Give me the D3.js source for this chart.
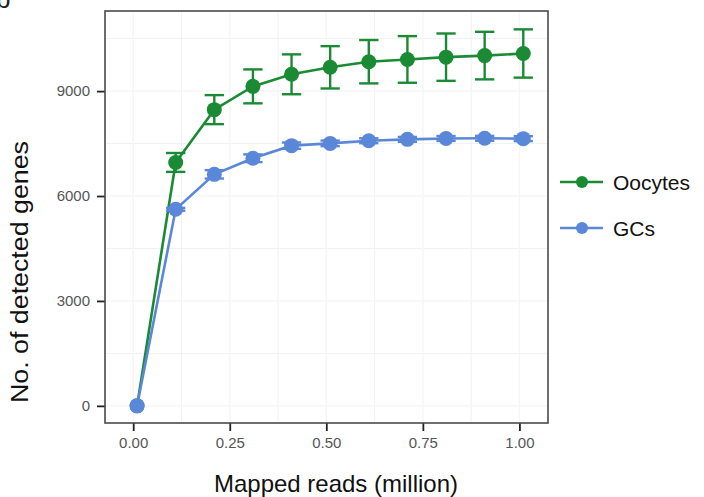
<!DOCTYPE html>
<html>
<head>
<meta charset="utf-8">
<script src="https://cdn.jsdelivr.net/npm/d3@7"></script>
<style>
  html, body { margin: 0; padding: 0; background: #fff; }
  svg { display: block; font-family: Arial, "Liberation Sans", Helvetica, sans-serif; }
</style>
</head>
<body>
<svg id="chart" width="704" height="497"></svg>
<script>
// ---- data ----
const mappedReads = [0.01, 0.11, 0.21, 0.31, 0.41, 0.51, 0.61, 0.71, 0.81, 0.91, 1.01];
const oocytesMean = [0, 6960, 8470, 9135, 9480, 9680, 9840, 9905, 9970, 10015, 10075];
const oocytesErr  = [0, 270, 415, 485, 570, 605, 620, 667, 677, 680, 690];
const gcsMean     = [0, 5620, 6620, 7080, 7440, 7505, 7580, 7620, 7645, 7650, 7640];
const gcsErr      = [0, 40, 120, 110, 90, 80, 70, 70, 70, 70, 70];
const seriesNames = ["Oocytes", "GCs"];
const seriesColors = ["#1b8a34", "#5b87d8"];
const xTicks = [0, 0.25, 0.5, 0.75, 1.0];
const xTickLabels = ["0.00", "0.25", "0.50", "0.75", "1.00"];
const yTicks = [0, 3000, 6000, 9000];
const yTickLabels = ["0", "3000", "6000", "9000"];
const xTitle = "Mapped reads (million)";
const yTitle = "No. of detected genes";

const series = [
  { name: seriesNames[0], color: seriesColors[0], mean: oocytesMean, err: oocytesErr },
  { name: seriesNames[1], color: seriesColors[1], mean: gcsMean, err: gcsErr }
].map(s => ({ ...s, pts: mappedReads.map((x, i) => ({ x, y: s.mean[i], e: s.err[i] })) }));

// ---- layout ----
const svg = d3.select("#chart");
const L = 105, T = 11, W = 443, H = 412;

const x = d3.scaleLinear().domain([-0.073, 1.074]).range([L, L + W]);
const y = d3.scaleLinear().domain([-490, 11290]).range([T + H, T]);

// grid (very faint)
const g = svg.append("g");
const minorX = [0.125, 0.375, 0.625, 0.875];
const minorY = [1500, 4500, 7500, 10500];
g.selectAll(".gxm").data(minorX).join("line")
  .attr("x1", d => x(d)).attr("x2", d => x(d)).attr("y1", T).attr("y2", T + H)
  .attr("stroke", "#f1f1f1").attr("stroke-width", 1);
g.selectAll(".gym").data(minorY).join("line")
  .attr("y1", d => y(d)).attr("y2", d => y(d)).attr("x1", L).attr("x2", L + W)
  .attr("stroke", "#f1f1f1").attr("stroke-width", 1);
g.selectAll(".gx").data(xTicks).join("line")
  .attr("x1", d => x(d)).attr("x2", d => x(d)).attr("y1", T).attr("y2", T + H)
  .attr("stroke", "#f6f6f6").attr("stroke-width", 1.5);
g.selectAll(".gy").data(yTicks).join("line")
  .attr("y1", d => y(d)).attr("y2", d => y(d)).attr("x1", L).attr("x2", L + W)
  .attr("stroke", "#f6f6f6").attr("stroke-width", 1.5);

// axes
const xAxis = d3.axisBottom(x).tickValues(xTicks).tickFormat((d, i) => xTickLabels[i])
  .tickSize(8).tickSizeOuter(0).tickPadding(6);
const yAxis = d3.axisLeft(y).tickValues(yTicks).tickFormat((d, i) => yTickLabels[i])
  .tickSize(8).tickSizeOuter(0).tickPadding(7);

const gx = svg.append("g").attr("transform", `translate(0,${T + H})`).call(xAxis);
const gy = svg.append("g").attr("transform", `translate(${L},0)`).call(yAxis);
[gx, gy].forEach(a => {
  a.select(".domain").remove();
  a.selectAll(".tick line").attr("stroke", "#222").attr("stroke-width", 1.8);
  a.selectAll(".tick text").attr("fill", "#555").style("font-size", "15px")
    .style("font-family", "Arial, 'Liberation Sans', Helvetica, sans-serif");
});

// data layers: lines, error bars, points
const line = d3.line().x(d => x(d.x)).y(d => y(d.y));
const plot = svg.append("g");
series.forEach(s => {
  plot.append("path").datum(s.pts).attr("d", line)
    .attr("fill", "none").attr("stroke", s.color).attr("stroke-width", 2.6);
});
const capHalf = 0.025;
series.forEach(s => {
  const eb = plot.append("g").attr("stroke", s.color).attr("stroke-width", 2.4).attr("fill", "none");
  const pts = s.pts.filter(d => d.e > 0);
  eb.selectAll(".v").data(pts).join("line")
    .attr("x1", d => x(d.x)).attr("x2", d => x(d.x))
    .attr("y1", d => y(d.y - d.e)).attr("y2", d => y(d.y + d.e));
  eb.selectAll(".t").data(pts).join("line")
    .attr("x1", d => x(d.x - capHalf)).attr("x2", d => x(d.x + capHalf))
    .attr("y1", d => y(d.y + d.e)).attr("y2", d => y(d.y + d.e));
  eb.selectAll(".b").data(pts).join("line")
    .attr("x1", d => x(d.x - capHalf)).attr("x2", d => x(d.x + capHalf))
    .attr("y1", d => y(d.y - d.e)).attr("y2", d => y(d.y - d.e));
});
series.forEach(s => {
  plot.selectAll(null).data(s.pts).join("circle")
    .attr("cx", d => x(d.x)).attr("cy", d => y(d.y)).attr("r", 7.5)
    .attr("fill", s.color);
});

// panel border
svg.append("rect").attr("x", L).attr("y", T).attr("width", W).attr("height", H)
  .attr("fill", "none").attr("stroke", "#4a4a4a").attr("stroke-width", 1.6);

// titles
svg.append("text").attr("x", 336).attr("y", 492).attr("text-anchor", "middle")
  .style("font-size", "24px").attr("fill", "#111").text(xTitle);
svg.append("text").attr("transform", `translate(28,${272}) rotate(-90)`).attr("text-anchor", "middle")
  .attr("textLength", 262).attr("lengthAdjust", "spacingAndGlyphs")
  .style("font-size", "23px").attr("fill", "#111").text(yTitle);

// legend
const legY = [182, 228];
series.forEach((s, i) => {
  const lg = svg.append("g");
  lg.append("line").attr("x1", 560).attr("x2", 603).attr("y1", legY[i]).attr("y2", legY[i])
    .attr("stroke", s.color).attr("stroke-width", 2.6);
  lg.append("circle").attr("cx", 582).attr("cy", legY[i]).attr("r", 6).attr("fill", s.color);
  lg.append("text").attr("x", 613).attr("y", legY[i] + 7.5)
    .style("font-size", "21px").attr("fill", "#111").text(s.name);
});

// partially cropped panel letter
svg.append("text").attr("x", -4).attr("y", 8).style("font-size", "26px").attr("fill", "#222").text("b");
</script>
</body>
</html>
